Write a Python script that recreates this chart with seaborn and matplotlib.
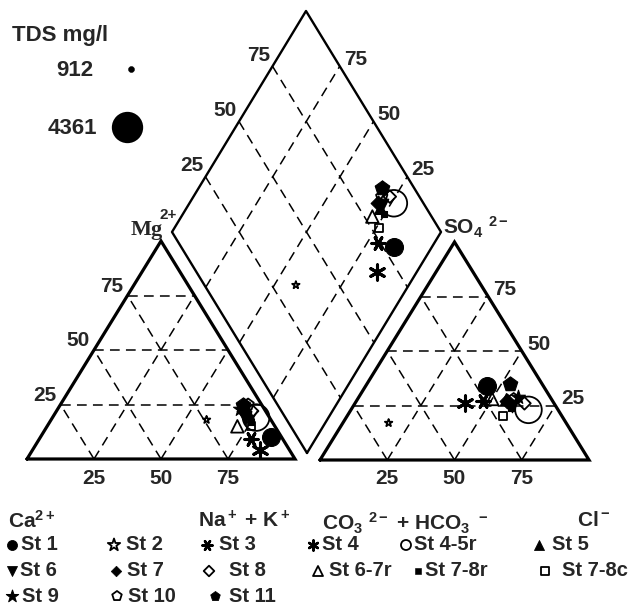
import matplotlib
matplotlib.use('Agg')
import matplotlib.pyplot as plt
import seaborn as sns
import numpy as np

sns.set_style("white")
plt.rcParams['font.family'] = ['Liberation Sans', 'DejaVu Sans']
plt.rcParams['font.weight'] = 'bold'
plt.rcParams['mathtext.fontset'] = 'custom'
plt.rcParams['mathtext.rm'] = 'Liberation Sans:bold'
plt.rcParams['mathtext.it'] = 'Liberation Sans:bold'
plt.rcParams['mathtext.bf'] = 'Liberation Sans:bold'
plt.rcParams['mathtext.default'] = 'rm'
plt.rcParams['lines.scale_dashes'] = False

# ── Datos (% meq) ─────────────────────────────────────────
stations = ['St 1', 'St 2', 'St 3', 'St 4', 'St 4-5r', 'St 5', 'St 6', 'St 6-7r',
            'St 7', 'St 7-8r', 'St 7-8c', 'St 8', 'St 9', 'St 10', 'St 11']
ca   = [4, 24, 12, 11, 5, 7, 9, 14, 8, 8, 9, 5, 9, 5, 7]
mg   = [10, 18, 9, 4, 19, 21, 19, 15, 22, 17, 15, 22, 23, 25, 25]
na_k = [86, 58, 79, 85, 76, 72, 72, 71, 70, 75, 76, 73, 68, 70, 68]
hco3 = [21, 66, 26, 33, 11, 17, 16, 22, 17, 17, 22, 11, 12, 14, 12]
so4  = [34, 17, 27, 26, 23, 28, 25, 28, 27, 24, 20, 26, 29, 28, 35]
cl   = [45, 17, 47, 41, 66, 55, 59, 50, 56, 59, 58, 63, 59, 58, 53]
tds  = [2700, 912, 2000, 2300, 4000, 1800, 1900, 1900, 2100, 1300, 1500, 1800, 1700, 1800, 2300]

tds_legend = [912, 4361]
ticks = [25, 50, 75]

# estilo de cada estación: marcador, relleno, factor de tamaño
estilo = {
    'St 1': ('o', True, 1.0), 'St 2': ('*', False, 1.3), 'St 3': ((6, 2, 30), True, 1.0),
    'St 4': ((6, 2, 0), True, 1.0), 'St 4-5r': ('o', False, 1.0), 'St 5': ('^', True, 1.0),
    'St 6': ('v', True, 1.0), 'St 6-7r': ('^', False, 1.0), 'St 7': ('D', True, 0.75),
    'St 7-8r': ('s', True, 0.7), 'St 7-8c': ('s', False, 0.8), 'St 8': ('D', False, 0.75),
    'St 9': ('*', True, 1.3), 'St 10': ('p', False, 1.0), 'St 11': ('p', True, 1.0),
}

# ── Geometría (px) ────────────────────────────────────────
L0 = np.array([27.0, 459.0]); SL, HL = 268.0, 218.0
R0 = np.array([320.0, 460.0]); SR, HR = 269.0, 218.0
DB = np.array([307.0, 453.0]); DLv = np.array([172.0, 232.0]); DRv = np.array([441.0, 232.0])


def cat_xy(na, m):
    return L0[0] + SL * (na + m / 2), L0[1] - HL * m


def an_xy(c, s):
    return R0[0] + SR * (c + s / 2), R0[1] - HR * s


def dia_xy(na, s):
    p = DB + (1 - na) * (DLv - DB) + s * (DRv - DB)
    return p[0], p[1]


def size_pt2(t, f=1.0):
    px = 6 + (t - 912) / (4361 - 912) * 23
    return (px * 0.72 * f) ** 2


fig = plt.figure(figsize=(6.33, 6.04), dpi=100)
ax = fig.add_axes([0, 0, 1, 1])

dash = dict(color='black', lw=1.1, dashes=(7, 4.5), zorder=1)
outline = dict(color='black', lw=2.3, zorder=2, solid_joinstyle='miter')

# rejillas de los triángulos
for f in (cat_xy, an_xy):
    for t in ticks:
        t = t / 100
        for a, b in [((0, t), (1 - t, t)), ((t, 0), (t, 1 - t)), ((1 - t, 0), (0, 1 - t))]:
            p1, p2 = f(*a), f(*b)
            ax.plot([p1[0], p2[0]], [p1[1], p2[1]], **dash)
    c = [f(0, 0), f(1, 0), f(0, 1), f(0, 0)]
    ax.plot([p[0] for p in c], [p[1] for p in c], **outline)

# rejilla del rombo
for t in ticks:
    t = t / 100
    for a, b in [((t, 0), (t, 1)), ((0, t), (1, t))]:
        p1, p2 = dia_xy(*a), dia_xy(*b)
        ax.plot([p1[0], p2[0]], [p1[1], p2[1]], **dash)
c = [dia_xy(1, 0), dia_xy(0, 0), dia_xy(0, 1), dia_xy(1, 1), dia_xy(1, 0)]
ax.plot([p[0] for p in c], [p[1] for p in c], color='black', lw=1.7, zorder=2)

# etiquetas de escala
fs = 15
for t in ticks:
    x, y = cat_xy(t / 100, 0)
    ax.text(x, 479, str(t), ha='center', va='center', fontsize=fs)
    x, y = cat_xy(0, t / 100)
    ax.text(x - 16, y - 9, str(t), ha='center', va='center', fontsize=fs)
    x, y = an_xy(t / 100, 0)
    ax.text(x, 479, str(t), ha='center', va='center', fontsize=fs)
    x, y = an_xy(1 - t / 100, t / 100)
    ax.text(x + 17, y - 7, str(t), ha='center', va='center', fontsize=fs)
    x, y = dia_xy(0, t / 100)
    ax.text(x - 14, y - 11, str(t), ha='center', va='center', fontsize=fs)
    x, y = dia_xy(1 - t / 100, 1)
    ax.text(x + 16, y - 7, str(t), ha='center', va='center', fontsize=fs)

# puntos
for i, st in enumerate(stations):
    mk, filled, k = estilo[st]
    s = size_pt2(tds[i], k)
    kw = dict(marker=mk, s=s, color='black', legend=False, ax=ax, zorder=3 + i)
    if isinstance(mk, tuple):
        kw['linewidth'] = 2.2
    elif filled:
        kw['edgecolor'] = 'black'
        kw['linewidth'] = 0.8
    else:
        kw['facecolor'] = 'none'
        kw['edgecolor'] = 'black'
        kw['linewidth'] = 1.3
    pts = [cat_xy(na_k[i] / 100, mg[i] / 100),
           an_xy(cl[i] / 100, so4[i] / 100),
           dia_xy(na_k[i] / 100, (so4[i] + cl[i]) / 100)]
    sns.scatterplot(x=[p[0] for p in pts], y=[p[1] for p in pts], **kw)

# nombres de ejes
ax.text(131, 230, 'Mg', family='Liberation Serif', fontsize=16, fontweight='bold',
        ha='left', va='center')
ax.text(159, 215, '2+', fontsize=11, ha='left', va='center')
ax.text(443, 227, r'SO$_4$ $^{2-}$', fontsize=15, ha='left', va='center')
ax.text(8, 521, r'Ca$^{2+}$', fontsize=15, ha='left', va='center')
ax.text(198, 521, r'Na$^+$ + K$^+$', fontsize=15, ha='left', va='center')
ax.text(322, 523, r'CO$_3$ $^{2-}$ + HCO$_3$ $^-$', fontsize=15, ha='left', va='center')
ax.text(577, 521, r'Cl$^-$', fontsize=15, ha='left', va='center')

# leyenda TDS
ax.text(12, 35, 'TDS mg/l', fontsize=16, ha='left', va='center')
for t, (xt, yt, xm) in zip(tds_legend, [(93, 71, 131), (97, 129, 127)]):
    ax.text(xt, yt, str(t), fontsize=16, ha='right', va='center')
    sns.scatterplot(x=[xm], y=[yt - 2], marker='o', s=size_pt2(t), color='black',
                    edgecolor='black', legend=False, ax=ax)

# leyenda de estaciones
leg = {
    'St 1': (12, 545, 21), 'St 2': (114, 545, 126), 'St 3': (207, 545, 219),
    'St 4': (313, 545, 322), 'St 4-5r': (406, 545, 414), 'St 5': (539, 545, 552),
    'St 6': (12, 571, 20), 'St 7': (116, 571, 127), 'St 8': (209, 571, 229),
    'St 6-7r': (318, 571, 329), 'St 7-8r': (418, 571, 425), 'St 7-8c': (545, 571, 562),
    'St 9': (12, 596, 22), 'St 10': (117, 596, 128), 'St 11': (215, 596, 229),
}
for st in stations:
    mk, filled, k = estilo[st]
    xm, y, xt = leg[st]
    kw = dict(marker=mk, s=(10 * 0.72 * k) ** 2, color='black', legend=False, ax=ax)
    if isinstance(mk, tuple):
        kw['linewidth'] = 1.8
    elif filled:
        kw['edgecolor'] = 'black'
    else:
        kw['facecolor'] = 'none'
        kw['edgecolor'] = 'black'
        kw['linewidth'] = 1.3
    sns.scatterplot(x=[xm], y=[y], **kw)
    ax.text(xt, y, st, fontsize=14.5, ha='left', va='center')

ax.set_xlim(0, 633)
ax.set_ylim(604, 0)
ax.axis('off')
fig.savefig('out.png', dpi=100)
